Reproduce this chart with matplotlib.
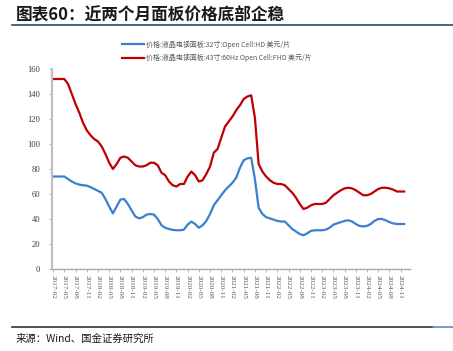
import numpy as np
import pandas as pd
import matplotlib
matplotlib.use("Agg")
import matplotlib.pyplot as plt
from matplotlib.lines import Line2D

plt.rcParams['font.family'] = ['Noto Sans CJK SC', 'DejaVu Sans']

# monthly, 2017-02 .. 2024-12
dates = pd.period_range("2017-02", "2024-12", freq="M")

price_43 = [152, 152, 152, 152, 148, 140, 132, 125, 117, 111, 107, 104, 102, 98, 92, 85,
            80, 84, 89, 90, 89, 86, 83, 82, 82, 83, 85, 85, 83, 77, 75, 70,
            67, 66, 68, 68, 74, 78, 75, 70, 71, 76, 82, 93, 96, 105, 114, 118,
            122, 127, 131, 136, 138, 139, 121, 84, 78, 74, 71, 69, 68, 68, 67, 64,
            61, 57, 52, 48, 49, 51, 52, 52, 52, 53, 56, 59, 61, 63, 64.5, 65,
            64.5, 63, 61, 59, 59, 60, 62, 64, 65, 65, 64.5, 63.5, 62, 62, 62]

price_32 = [74, 74, 74, 74, 72, 70, 68.5, 67.5, 67, 66.7, 65.5, 64, 62.5, 61, 56, 50,
            44.5, 50, 55.5, 56, 52, 47, 42, 40.5, 41.5, 43.5, 44, 43.5, 40, 35, 33, 32,
            31.3, 31, 31, 31.5, 35.5, 38, 36, 33, 35, 38.5, 44, 51, 55, 59, 63, 66,
            69, 73, 81, 87, 88.5, 89, 72, 49, 44, 41.5, 40.5, 39.5, 38.5, 38, 38, 35,
            32, 30, 28, 27, 28.5, 30.5, 31, 31, 31, 31.5, 33, 35.5, 36.5, 37.5, 38.5, 39,
            38, 36, 34.5, 34, 34.5, 36, 38.5, 40, 40, 39, 37.5, 36.5, 36, 36, 36]

label_32 = "价格:液晶电视面板:32寸:Open Cell:HD 美元/片"
label_43 = "价格:液晶电视面板:43寸:60Hz Open Cell:FHD 美元/片"

x = np.arange(len(dates))

fig = plt.figure(figsize=(4.53, 3.51), dpi=100)
ax = fig.add_axes([0.1148, 0.2336, 0.7902, 0.5698])

ax.plot(x, price_32, color="#3b7fd0", lw=1.6, solid_capstyle="round")
ax.plot(x, price_43, color="#c00000", lw=1.6, solid_capstyle="round")

ax.set_xlim(-0.3, 95.5)
ax.set_ylim(0, 160)
ax.set_yticks(range(0, 161, 20))
ticks = x[::3]
ax.set_xticks(ticks)
ax.set_xticklabels([dates[i].strftime("%Y-%m") for i in ticks], rotation=270,
                   fontsize=5.2, color="#595959", family="Liberation Serif")
for lab in ax.get_yticklabels():
    lab.set_family("Liberation Serif")
    lab.set_fontsize(6.2)
    lab.set_color("#404040")

for s in ["top", "right"]:
    ax.spines[s].set_visible(False)
ax.spines["left"].set_color("#bfbfbf")
ax.spines["left"].set_linewidth(1.6)
ax.spines["bottom"].set_color("#a6a6a6")
ax.spines["bottom"].set_linewidth(1.0)
ax.tick_params(axis="y", length=2.5, width=0.6, color="#a6a6a6", pad=6)
ax.tick_params(axis="x", length=2.5, width=0.6, color="#a6a6a6", pad=2)

handles = [Line2D([], [], color="#3b7fd0", lw=1.6),
           Line2D([], [], color="#c00000", lw=1.6)]
fig.legend(handles, [label_32, label_43], loc="upper left",
           bbox_to_anchor=(0.262, 0.895), frameon=False, fontsize=5,
           handlelength=3.2, handletextpad=0.3, labelspacing=0.75,
           labelcolor="#595959", borderpad=0)

fig.text(0.035, 0.957, "图表60：近两个月面板价格底部企稳", fontsize=12,
         fontweight="bold", style="italic", color="#1a1a1a", va="center")
fig.add_artist(Line2D([0.027, 1.0], [0.93, 0.93], color="#1f4e79", lw=1.2))
fig.add_artist(Line2D([0.027, 0.955], [0.068, 0.068], color="#333333", lw=1.2))
fig.add_artist(Line2D([0.955, 1.0], [0.068, 0.068], color="#5b8fc7", lw=1.2))
fig.text(0.035, 0.035, "来源：Wind、国金证券研究所", fontsize=7.5, color="#1a1a1a",
         va="center")

fig.savefig("out.png", dpi=100)
